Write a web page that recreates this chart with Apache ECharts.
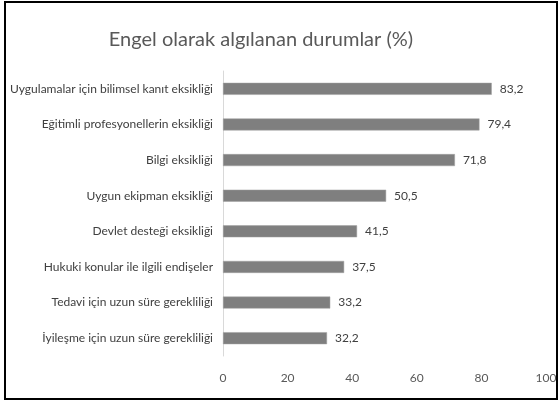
<!DOCTYPE html>
<html>
<head>
<meta charset="utf-8">
<script src="https://cdn.jsdelivr.net/npm/echarts@6/dist/echarts.min.js"></script>
<style>
    html, body { margin: 0; padding: 0; background: #fff; }
    #chart { width: 560px; height: 403px; }
</style>
</head>
<body>
<div id="chart"></div>
<script>
    // kategoriler (yukarıdan aşağıya)
    const categories = [
        'Uygulamalar için bilimsel kanıt eksikliği',
        'Eğitimli profesyonellerin eksikliği',
        'Bilgi eksikliği',
        'Uygun ekipman eksikliği',
        'Devlet desteği eksikliği',
        'Hukuki konular ile ilgili endişeler',
        'Tedavi için uzun süre gerekliliği',
        'İyileşme için uzun süre gerekliliği'
    ];
    const values = [83.2, 79.4, 71.8, 50.5, 41.5, 37.5, 33.2, 32.2];
    const xTicks = [0, 20, 40, 60, 80, 100];

    const font = "Lato, 'Open Sans', sans-serif";

    let mychart = echarts.init(document.getElementById('chart'));
    let option = {
        animation: false,
        title: {
            text: 'Engel olarak algılanan durumlar (%)',
            left: 256,
            textAlign: 'center',
            top: 25,
            textStyle: {
                color: '#595959',
                fontSize: 20,
                fontWeight: 'normal',
                fontFamily: font
            }
        },
        graphic: [{
            type: 'rect',
            shape: { x: 5, y: 2, width: 552, height: 397 },
            style: { fill: 'none', stroke: '#000', lineWidth: 2 }
        }],
        grid: {
            left: 223,
            right: 14,
            top: 71,
            bottom: 47,
            outerBoundsMode: 'none'
        },
        xAxis: {
            type: 'value',
            min: xTicks[0],
            max: xTicks[xTicks.length - 1],
            interval: 20,
            axisLine: { show: false },
            axisTick: { show: false },
            splitLine: { show: false },
            axisLabel: {
                color: '#595959',
                fontSize: 12,
                fontFamily: font,
                margin: 16
            }
        },
        yAxis: {
            type: 'category',
            data: categories,
            inverse: true,
            axisTick: { show: false },
            axisLine: { lineStyle: { color: '#d9d9d9' } },
            axisLabel: {
                color: '#404040',
                fontSize: 12,
                fontFamily: font,
                margin: 10
            }
        },
        series: [{
            type: 'bar',
            data: values,
            barWidth: 12,
            itemStyle: {
                color: '#7f7f7f',
                borderColor: '#a0a0a0',
                borderWidth: 0.5
            },
            label: {
                show: true,
                position: 'right',
                distance: 8,
                color: '#404040',
                fontSize: 12,
                fontFamily: font,
                formatter: p => String(p.value).replace('.', ',')
            }
        }]
    };
    mychart.setOption(option);
</script>
</body>
</html>
